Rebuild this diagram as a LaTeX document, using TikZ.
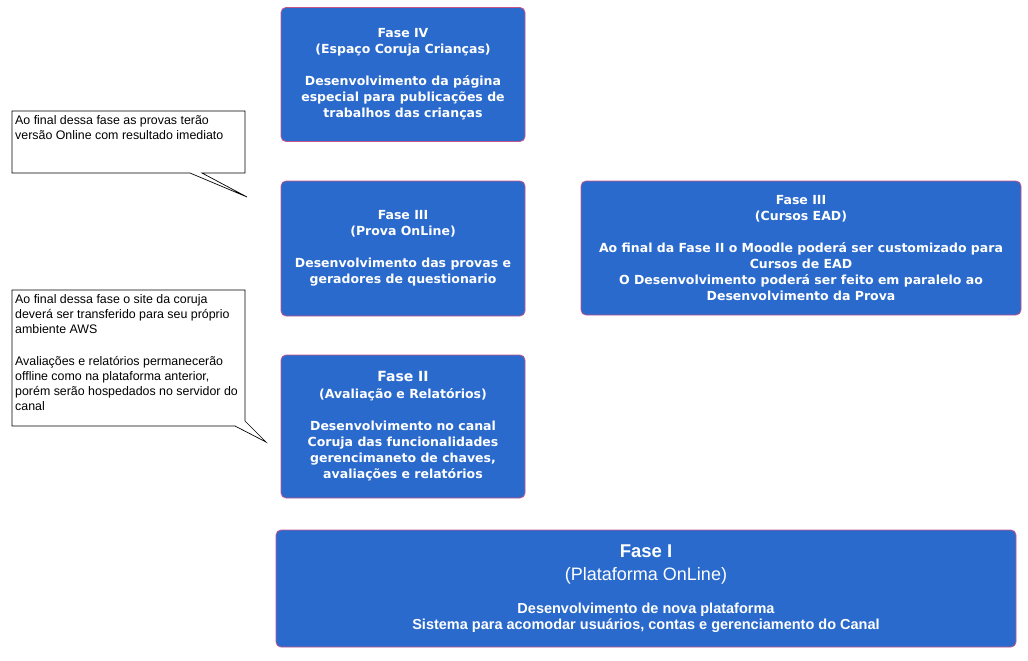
\documentclass[tikz,border=0pt]{standalone}
\usepackage{fontspec}
\setmainfont{DejaVu Sans}
\newfontfamily\arialfont{Liberation Sans}
\definecolor{boxblue}{RGB}{42,106,204}
\definecolor{boxedge}{RGB}{196,86,140}
\begin{document}
\begin{tikzpicture}[x=1pt,y=-1pt,
  phase/.style={draw=boxedge, line width=0.8pt, fill=boxblue, rounded corners=5pt, text=white,
    align=center, inner sep=0pt, font=\fontsize{12.5}{16}\selectfont\bfseries},
  note/.style={anchor=north west, align=left, inner sep=0pt,
    font=\arialfont\fontsize{12.4}{15}\selectfont},
  calloutline/.style={draw=black, line width=0.7pt, fill=white}]
\useasboundingbox (0,0) rectangle (1028,661);
% Fase IV
\node[phase, minimum width=244pt, minimum height=134pt] (f4) at (403,74.5)
  {Fase IV\\(Espaço Coruja Crianças)\\[16pt]Desenvolvimento da página\\especial para publicações de\\trabalhos das crianças};
% Fase III Prova
\node[phase, minimum width=244pt, minimum height=135pt] (f3p) at (403,248.5)
  {Fase III\\(Prova OnLine)\\[16pt]Desenvolvimento das provas e\\geradores de questionario};
% Fase III Cursos
\node[phase, minimum width=440pt, minimum height=134pt] (f3c) at (801,248)
  {Fase III\\(Cursos EAD)\\[16pt]Ao final da Fase II o Moodle poderá ser customizado para\\Cursos de EAD\\O Desenvolvimento poderá ser feito em paralelo ao\\Desenvolvimento da Prova};
% Fase II
\node[phase, minimum width=244pt, minimum height=143pt] (f2) at (403,426.5)
  {{\fontsize{14}{17}\selectfont Fase II}\\[1pt](Avaliação e Relatórios)\\[16pt]Desenvolvimento no canal\\Coruja das funcionalidades\\gerencimaneto de chaves,\\avaliações e relatórios};
% Fase I
\node[phase, minimum width=740pt, minimum height=117pt, font=\arialfont\fontsize{14.5}{16}\selectfont\bfseries] (f1) at (646,588.5)
  {{\fontsize{18.5}{23}\selectfont Fase I}\\[7pt]{\fontsize{18}{23}\selectfont\mdseries (Plataforma OnLine)}\\[17pt]Desenvolvimento de nova plataforma\\Sistema para acomodar usuários, contas e gerenciamento do Canal};
% Callout 1
\draw[calloutline] (12,111) -- (245,111) -- (245,173) -- (202,173) -- (247,197) -- (190,173) -- (12,173) -- cycle;
\node[note] (n1) at (15,115) {Ao final dessa fase as provas terão\\versão Online com resultado imediato};
% Callout 2
\draw[calloutline] (12,290) -- (245,290) -- (245,421) -- (266,442) -- (235,426) -- (12,426) -- cycle;
\node[note] (n2) at (15,294.5) {Ao final dessa fase o site da coruja\\deverá ser transferido para seu próprio\\ambiente AWS\\[17pt]Avaliações e relatórios permanecerão\\offline como na plataforma anterior,\\porém serão hospedados no servidor do\\canal};
\end{tikzpicture}
\end{document}
